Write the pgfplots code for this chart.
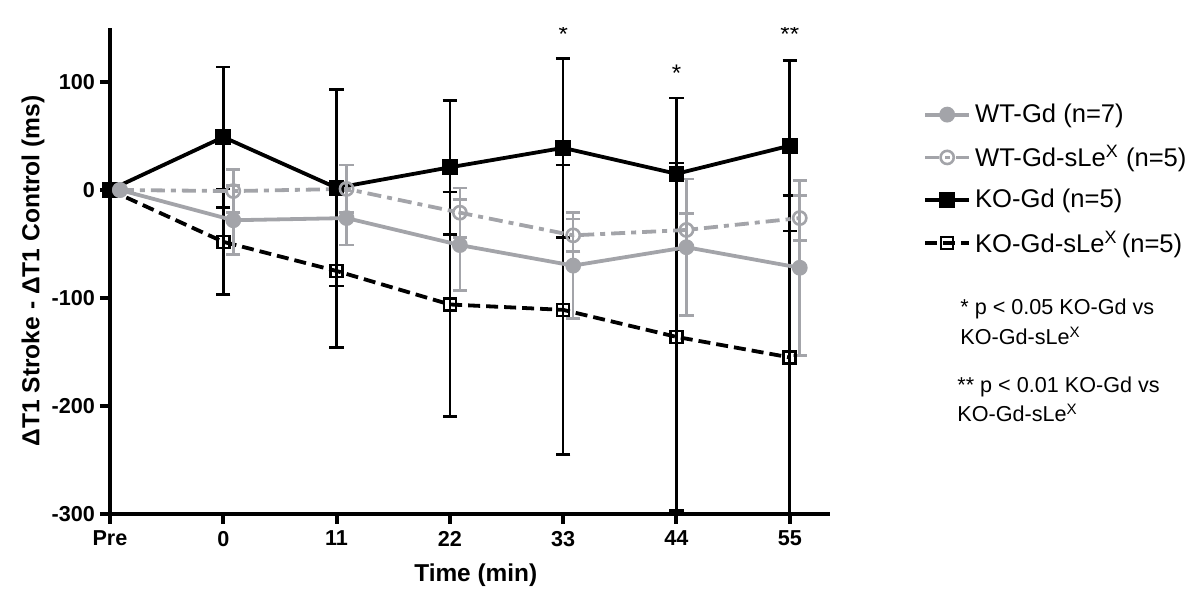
\documentclass[border=0pt]{standalone}
\usepackage{pgfplots}
\usepackage{pgfplotstable}
\pgfplotsset{compat=1.18}
\usepackage{fontspec}
\setmainfont{Liberation Sans}
\definecolor{wtgray}{RGB}{163,164,169}

\pgfplotstableread{
x y e
0 0 0
1 49 65
2 2 91
3 21 62
4 39 83
5 15 70
6 41 79
}\kogd
\pgfplotstableread{
x y e
0 0 0
1 -48 49
2 -75 71
3 -106 104
4 -111 134
5 -136 161
6 -155 150
}\kosle
\pgfplotstableread{
x y e
0.088 0 0
1.088 -28 32
2.088 -26 25
3.088 -51 42
4.088 -70 49
5.088 -53 63
6.088 -72 81
}\wtgd
\pgfplotstableread{
x y e
0.088 0 0
1.088 -1 20
2.088 1 22
3.088 -21 23
4.088 -42 15
5.088 -37 15
6.088 -26 21
}\wtsle

\begin{document}
\begin{tikzpicture}
\begin{axis}[
  name=ax,
  scale only axis, width=360pt, height=243pt,
  xmin=0, xmax=6.355, ymin=-300, ymax=150,
  axis x line*=bottom, axis y line*=left,
  axis line style={line width=2pt, -},
  xtick={0,...,6}, xticklabels={Pre,0,11,22,33,44,55},
  ytick={-300,-200,-100,0,100},
  tick align=outside, major tick length=5pt,
  tick style={line width=2pt, black},
  /pgf/number format/assume math mode=true,
  ticklabel style={font=\bfseries\fontsize{10.8}{12}\selectfont},
  yticklabel style={xshift=1pt},
  xlabel={Time (min)},
  xlabel style={font=\bfseries\fontsize{12.2}{14}\selectfont, at={(axis description cs:0.508,-0.125)}, anchor=center},
  ylabel={ΔT1 Stroke - ΔT1 Control (ms)},
  ylabel style={font=\bfseries\fontsize{12.3}{14}\selectfont, at={(axis description cs:-0.107,0.5)}, anchor=center},
  reverse legend,
  legend cell align=left,
  legend style={at={(axis description cs:1.129,0.853)}, anchor=north west, draw=none, fill=none,
    font=\fontsize{12.8}{14}\selectfont, row sep=6pt, inner sep=0pt},
  legend image code/.code={\draw[mark repeat=2,mark phase=2] plot coordinates {(0pt,0pt)(11pt,0pt)(22pt,0pt)};},
]
% KO-Gd-sLeX
\addplot[black, line width=1.9pt, dash pattern=on 6pt off 3pt, mark=square, mark size=3pt, mark options={solid, line width=1.3pt},
  error bars/.cd, y dir=both, y explicit,
  error bar style={line width=1.3pt, solid},
  error mark options={rotate=90, mark size=3.6pt, line width=1.3pt, solid}]
  table[x=x, y=y, y error=e]{\kosle};
\addlegendentry{KO-Gd-sLe\textsuperscript{X}\,(n=5)}
% KO-Gd
\addplot[black, line width=1.9pt, mark=square*, mark size=3pt, mark options={solid},
  error bars/.cd, y dir=both, y explicit,
  error bar style={line width=1.3pt, solid},
  error mark options={rotate=90, mark size=3.6pt, line width=1.3pt, solid}]
  table[x=x, y=y, y error=e]{\kogd};
\addlegendentry{KO-Gd (n=5)}
% WT-Gd-sLeX
\addplot[wtgray, line width=1.9pt, dash pattern=on 7pt off 3pt on 2.5pt off 3pt, mark=o, mark size=3.3pt, mark options={solid, line width=1.3pt},
  error bars/.cd, y dir=both, y explicit,
  error bar style={line width=1.3pt, solid},
  error mark options={rotate=90, mark size=3.6pt, line width=1.3pt, solid}]
  table[x=x, y=y, y error=e]{\wtsle};
\addlegendentry{WT-Gd-sLe\textsuperscript{X} (n=5)}
% WT-Gd
\addplot[wtgray, line width=1.9pt, mark=*, mark size=3pt, mark options={solid},
  error bars/.cd, y dir=both, y explicit,
  error bar style={line width=1.3pt, solid},
  error mark options={rotate=90, mark size=3.6pt, line width=1.3pt, solid}]
  table[x=x, y=y, y error=e]{\wtgd};
\addlegendentry{WT-Gd (n=7)}

\node[anchor=base, font=\fontsize{12}{14}\selectfont, inner sep=0pt] at (axis cs:4,137) {*};
\node[anchor=base, font=\fontsize{12}{14}\selectfont, inner sep=0pt] at (axis cs:5,100) {*};
\node[anchor=base, font=\fontsize{12}{14}\selectfont, inner sep=0pt] at (axis cs:6,137) {**};
\end{axis}
\begin{scope}[every node/.style={anchor=base west, inner sep=0pt, font=\fontsize{10.8}{12}\selectfont}]
\node at ([shift={(425pt,99.5pt)}]ax.south west) {* p < 0.05 KO-Gd vs};
\node at ([shift={(425pt,84.5pt)}]ax.south west) {KO-Gd-sLe\textsuperscript{X}};
\node at ([shift={(423.5pt,60.5pt)}]ax.south west) {** p < 0.01 KO-Gd vs};
\node at ([shift={(423.5pt,46pt)}]ax.south west) {KO-Gd-sLe\textsuperscript{X}};
\end{scope}
\pgfresetboundingbox
\path[use as bounding box] ([shift={(-55pt,-42.5pt)}]ax.south west) rectangle ([shift={(545pt,257pt)}]ax.south west);
\end{tikzpicture}
\end{document}
